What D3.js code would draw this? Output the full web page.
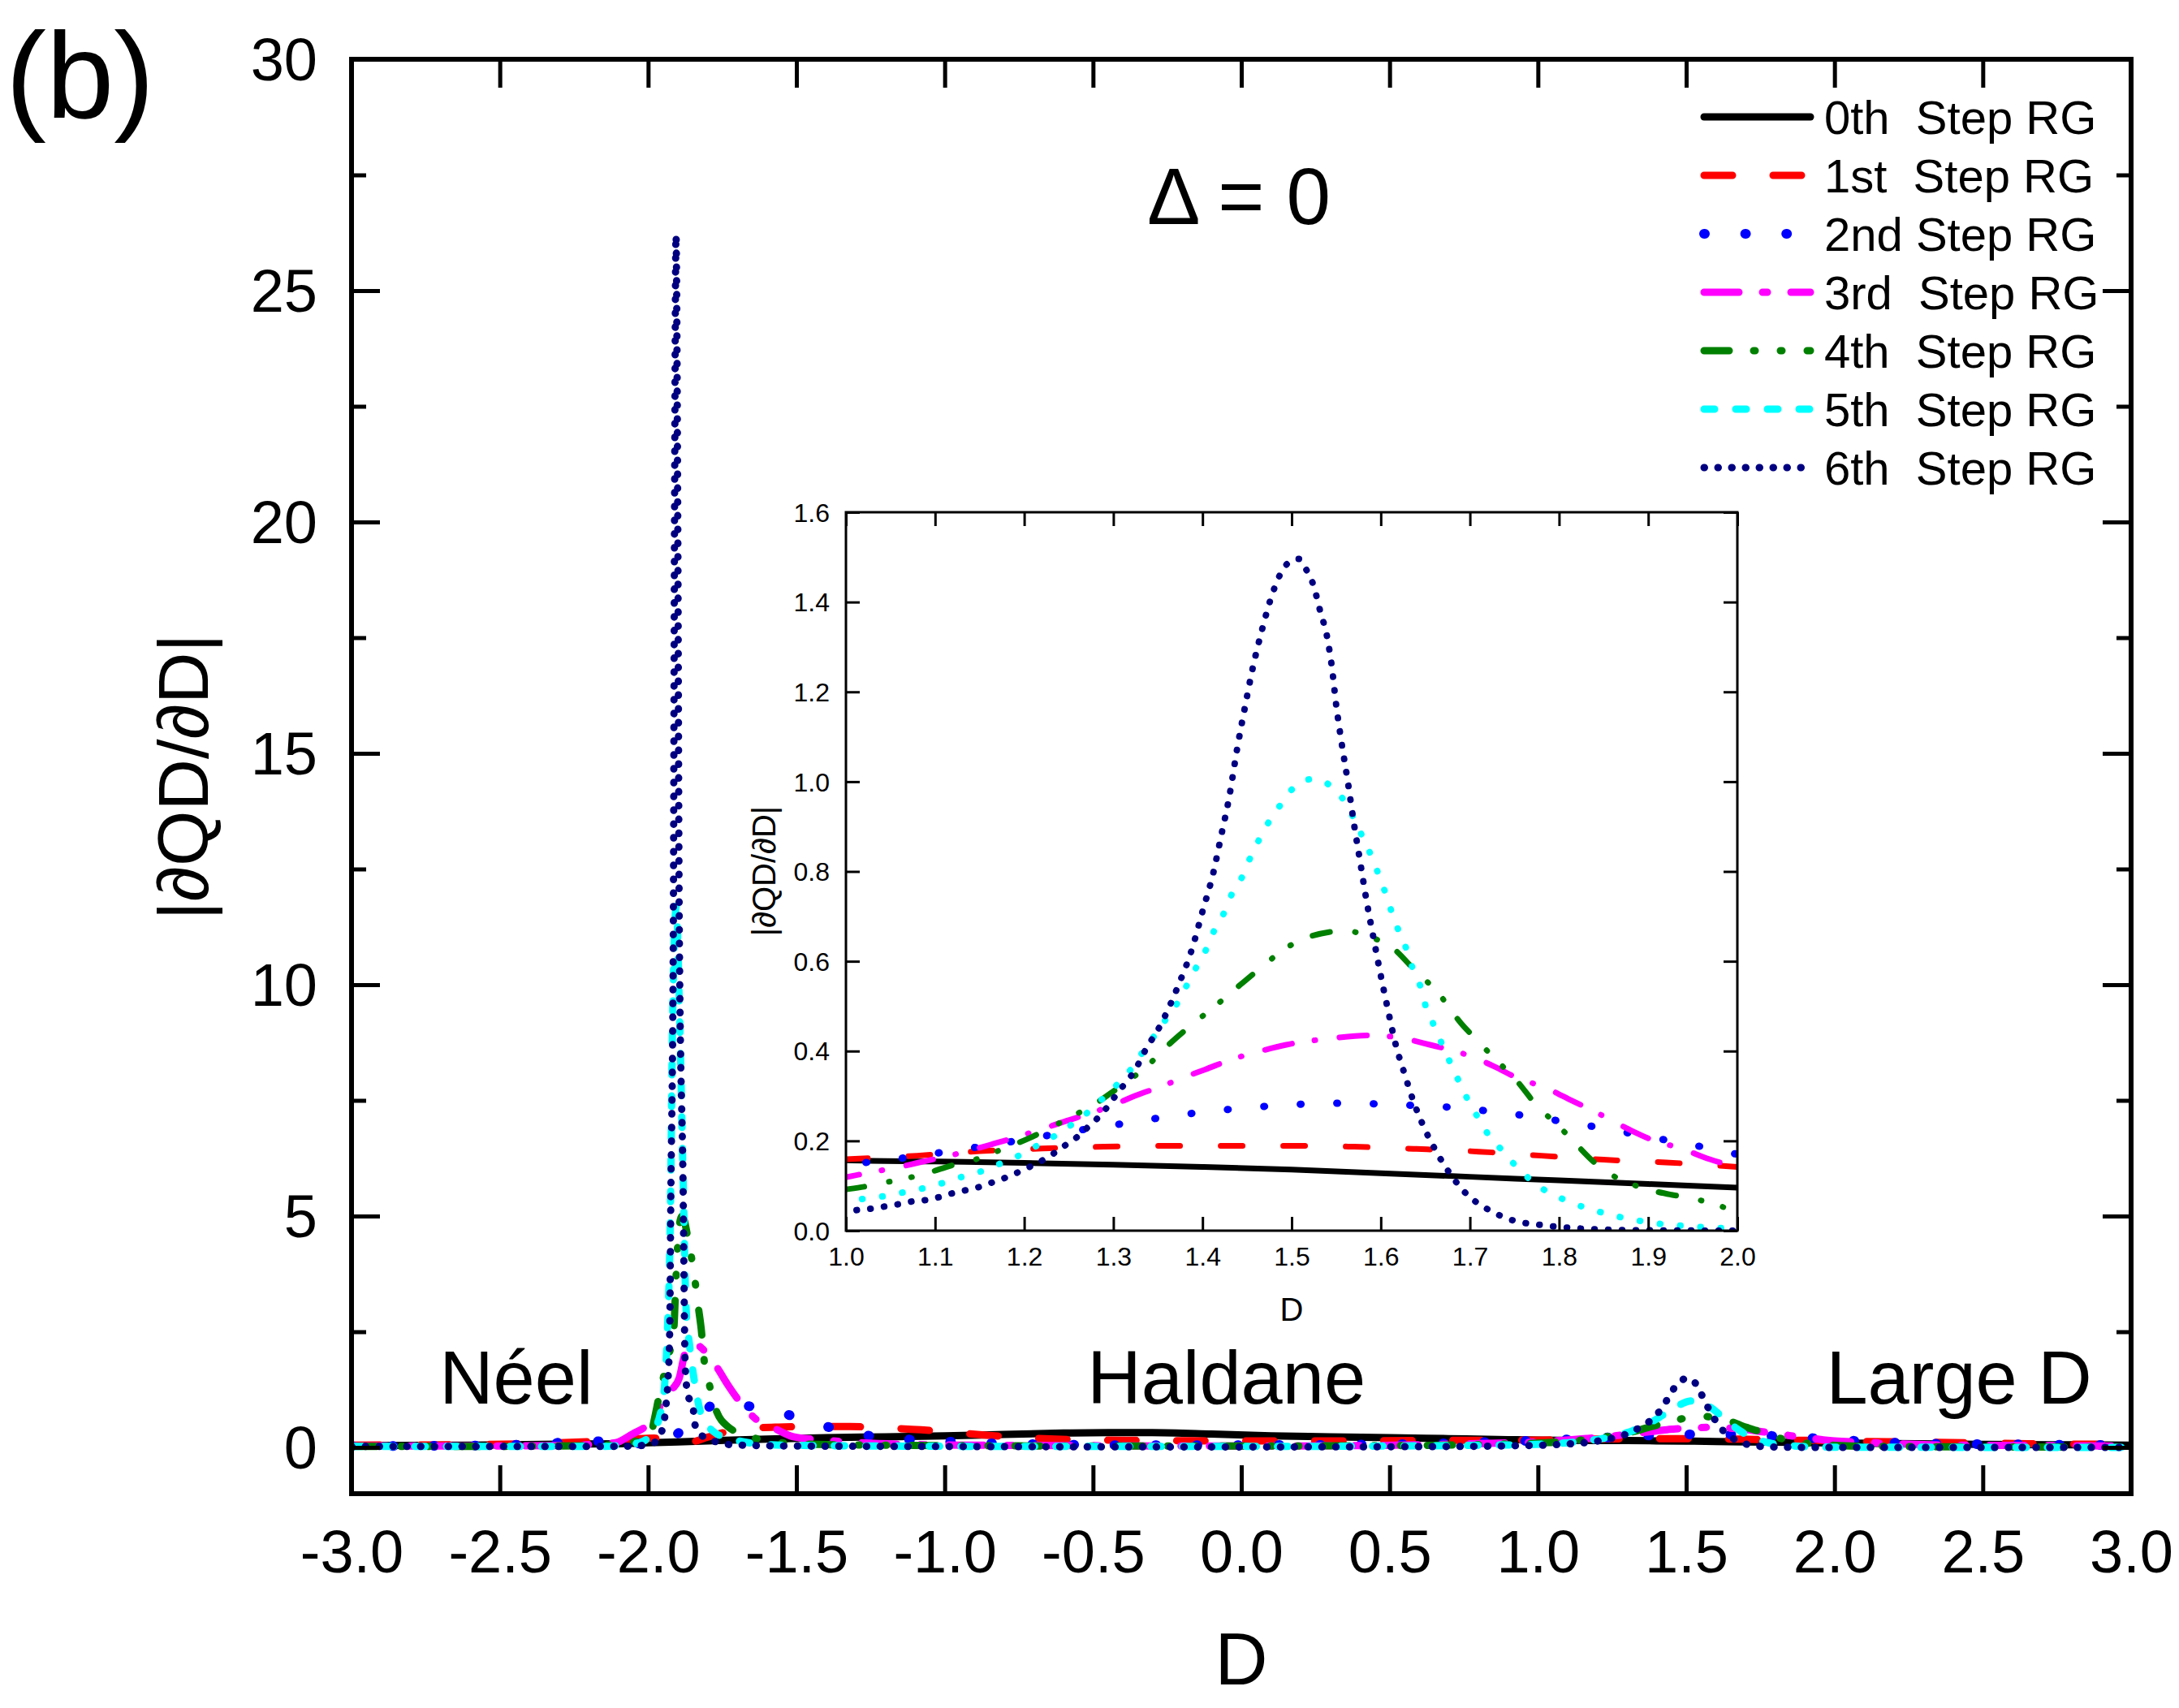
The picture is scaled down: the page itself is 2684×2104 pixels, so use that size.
<!DOCTYPE html>
<html><head><meta charset="utf-8">
<script src="https://cdn.jsdelivr.net/npm/d3@7"></script>
<style>
html,body{margin:0;padding:0;background:#fff;}
svg text{font-family:"Liberation Sans",Arial,sans-serif;white-space:pre;fill:#000;}
</style>
</head><body>
<svg id="c" width="2684" height="2104" xmlns="http://www.w3.org/2000/svg"></svg>
<script>
// ---------------- DATA ----------------
const seriesNames = ["0th  Step RG","1st  Step RG","2nd Step RG","3rd  Step RG","4th  Step RG","5th  Step RG","6th  Step RG"];

const step0 = [[-3.0,0.04],[-2.6,0.05],[-2.3,0.07],[-2.1,0.08],[-2.0,0.10],[-1.9,0.12],[-1.8,0.14],[-1.6,0.18],[-1.4,0.21],[-1.2,0.23],[-1.0,0.25],[-0.8,0.28],[-0.6,0.31],[-0.45,0.32],[-0.3,0.32],[-0.1,0.29],[0.1,0.25],[0.3,0.23],[0.5,0.21],[0.7,0.19],[0.9,0.168],[1.0,0.157],[1.1,0.154],[1.2,0.151],[1.3,0.147],[1.4,0.142],[1.5,0.136],[1.6,0.128],[1.7,0.120],[1.8,0.112],[1.9,0.104],[2.0,0.096],[2.2,0.082],[2.5,0.066],[2.8,0.056],[3.0,0.05]];

const step1 = [[-3.0,0.05],[-2.6,0.06],[-2.3,0.10],[-2.15,0.14],[-2.05,0.18],[-1.98,0.20],[-1.93,0.12],[-1.87,0.10],[-1.8,0.22],[-1.74,0.33],[-1.66,0.41],[-1.56,0.44],[-1.45,0.45],[-1.32,0.45],[-1.2,0.42],[-1.08,0.38],[-0.95,0.31],[-0.85,0.26],[-0.7,0.20],[-0.5,0.16],[-0.3,0.15],[0.0,0.14],[0.3,0.14],[0.6,0.15],[0.85,0.155],[1.0,0.159],[1.08,0.167],[1.15,0.177],[1.22,0.183],[1.29,0.187],[1.36,0.189],[1.43,0.189],[1.5,0.189],[1.57,0.187],[1.64,0.182],[1.71,0.176],[1.78,0.167],[1.85,0.158],[1.92,0.152],[2.0,0.142],[2.1,0.13],[2.25,0.12],[2.45,0.10],[2.65,0.08],[2.85,0.07],[3.0,0.065]];

const step2 = [[-3.0,0.03],[-2.6,0.04],[-2.35,0.08],[-2.2,0.14],[-2.1,0.10],[-2.0,0.08],[-1.95,0.15],[-1.9,0.30],[-1.85,0.60],[-1.8,0.85],[-1.76,0.98],[-1.72,0.95],[-1.65,0.88],[-1.58,0.80],[-1.5,0.65],[-1.45,0.55],[-1.38,0.42],[-1.31,0.31],[-1.24,0.24],[-1.175,0.20],[-1.1,0.16],[-1.04,0.14],[-0.9,0.10],[-0.7,0.07],[-0.4,0.05],[0.0,0.05],[0.4,0.06],[0.7,0.09],[0.9,0.13],[1.0,0.148],[1.038,0.155],[1.079,0.166],[1.12,0.178],[1.16,0.19],[1.2,0.203],[1.241,0.217],[1.282,0.23],[1.323,0.242],[1.364,0.255],[1.405,0.265],[1.446,0.273],[1.486,0.279],[1.527,0.283],[1.568,0.284],[1.61,0.281],[1.65,0.278],[1.69,0.273],[1.73,0.264],[1.77,0.254],[1.81,0.241],[1.85,0.228],[1.89,0.213],[1.93,0.198],[1.97,0.183],[2.0,0.17],[2.1,0.13],[2.2,0.10],[2.35,0.08],[2.5,0.07],[2.7,0.06],[3.0,0.05]];

const step3 = [[-3.0,0.03],[-2.6,0.03],[-2.3,0.04],[-2.2,0.06],[-2.11,0.10],[-2.05,0.30],[-2.02,0.40],[-1.976,0.62],[-1.955,0.98],[-1.92,1.25],[-1.895,1.50],[-1.875,2.05],[-1.85,2.25],[-1.83,2.20],[-1.812,2.10],[-1.77,1.75],[-1.733,1.37],[-1.69,0.98],[-1.64,0.63],[-1.57,0.40],[-1.51,0.23],[-1.43,0.17],[-1.3,0.11],[-1.15,0.07],[-0.95,0.05],[-0.6,0.04],[0.0,0.03],[0.4,0.04],[0.7,0.07],[0.9,0.10],[1.0,0.119],[1.03,0.131],[1.056,0.14],[1.08,0.151],[1.114,0.166],[1.138,0.178],[1.163,0.192],[1.199,0.213],[1.221,0.227],[1.245,0.243],[1.278,0.264],[1.3,0.28],[1.324,0.30],[1.356,0.323],[1.38,0.342],[1.403,0.359],[1.435,0.383],[1.456,0.395],[1.494,0.414],[1.543,0.428],[1.585,0.435],[1.613,0.432],[1.655,0.414],[1.704,0.386],[1.728,0.365],[1.752,0.341],[1.784,0.319],[1.815,0.289],[1.843,0.262],[1.878,0.226],[1.906,0.201],[1.937,0.183],[1.969,0.159],[2.0,0.141],[2.1,0.11],[2.2,0.08],[2.4,0.05],[2.7,0.04],[3.0,0.03]];

const step4 = [[-3.0,0.02],[-2.6,0.02],[-2.3,0.03],[-2.15,0.05],[-2.06,0.10],[-2.03,0.17],[-1.99,0.30],[-1.98,0.58],[-1.96,1.2],[-1.93,2.0],[-1.914,2.5],[-1.905,3.8],[-1.895,4.8],[-1.885,5.0],[-1.865,4.5],[-1.842,3.6],[-1.83,3.0],[-1.821,2.56],[-1.812,1.93],[-1.795,1.4],[-1.775,0.88],[-1.733,0.46],[-1.64,0.20],[-1.55,0.10],[-1.4,0.06],[-1.0,0.04],[-0.5,0.03],[0.0,0.03],[0.5,0.04],[0.8,0.06],[0.9,0.075],[1.0,0.092],[1.021,0.098],[1.043,0.107],[1.069,0.117],[1.094,0.13],[1.118,0.145],[1.143,0.157],[1.167,0.175],[1.19,0.193],[1.211,0.211],[1.232,0.232],[1.256,0.257],[1.28,0.283],[1.299,0.309],[1.316,0.333],[1.337,0.365],[1.362,0.414],[1.39,0.462],[1.411,0.495],[1.442,0.547],[1.47,0.593],[1.491,0.626],[1.522,0.656],[1.561,0.668],[1.585,0.656],[1.613,0.63],[1.641,0.574],[1.662,0.535],[1.69,0.462],[1.709,0.422],[1.728,0.383],[1.752,0.335],[1.777,0.274],[1.797,0.238],[1.818,0.195],[1.839,0.153],[1.86,0.123],[1.881,0.104],[1.905,0.089],[1.926,0.08],[1.95,0.072],[1.975,0.058],[2.0,0.044],[2.1,0.025],[2.3,0.015],[2.6,0.01],[3.0,0.01]];

const step5 = [[-3.0,0.02],[-2.5,0.02],[-2.15,0.02],[-2.08,0.06],[-2.03,0.10],[-1.99,0.29],[-1.96,0.7],[-1.945,1.3],[-1.935,2.5],[-1.925,5.0],[-1.918,9.0],[-1.905,11.7],[-1.895,9.6],[-1.883,6.1],[-1.872,3.0],[-1.86,2.2],[-1.848,1.6],[-1.835,1.1],[-1.823,0.75],[-1.79,0.4],[-1.768,0.29],[-1.72,0.18],[-1.66,0.10],[-1.55,0.05],[-1.2,0.03],[-0.5,0.02],[0.0,0.02],[0.5,0.03],[0.8,0.045],[0.95,0.06],[1.02,0.071],[1.043,0.077],[1.066,0.086],[1.088,0.095],[1.11,0.107],[1.132,0.121],[1.153,0.133],[1.174,0.15],[1.195,0.168],[1.215,0.19],[1.235,0.212],[1.253,0.236],[1.271,0.263],[1.288,0.294],[1.305,0.327],[1.32,0.36],[1.333,0.398],[1.346,0.434],[1.36,0.474],[1.373,0.511],[1.383,0.549],[1.394,0.59],[1.404,0.626],[1.413,0.668],[1.424,0.707],[1.433,0.75],[1.444,0.786],[1.453,0.828],[1.463,0.869],[1.474,0.909],[1.487,0.947],[1.501,0.984],[1.524,1.006],[1.542,0.993],[1.558,0.96],[1.569,0.921],[1.58,0.875],[1.589,0.836],[1.597,0.796],[1.605,0.753],[1.612,0.711],[1.62,0.668],[1.629,0.626],[1.637,0.577],[1.646,0.535],[1.651,0.495],[1.66,0.456],[1.669,0.414],[1.678,0.374],[1.688,0.331],[1.698,0.29],[1.709,0.252],[1.721,0.213],[1.737,0.177],[1.752,0.143],[1.77,0.11],[1.791,0.082],[1.81,0.066],[1.831,0.05],[1.853,0.038],[1.876,0.027],[1.9,0.019],[1.923,0.013],[1.946,0.01],[1.968,0.007],[1.992,0.005],[2.2,0.003],[2.6,0.002],[3.0,0.002]];

const step6 = [[-3.0,0.02],[-2.5,0.02],[-2.2,0.02],[-2.05,0.03],[-1.99,0.08],[-1.98,0.10],[-1.95,0.43],[-1.94,0.9],[-1.933,1.45],[-1.927,2.6],[-1.924,5.0],[-1.915,11.3],[-1.911,20.0],[-1.906,26.2],[-1.9,20.0],[-1.895,11.3],[-1.881,5.0],[-1.878,3.0],[-1.876,2.0],[-1.872,1.45],[-1.867,1.16],[-1.848,0.87],[-1.845,0.58],[-1.83,0.32],[-1.783,0.15],[-1.738,0.07],[-1.69,0.05],[-1.5,0.03],[-1.0,0.02],[0.0,0.01],[0.5,0.015],[0.8,0.025],[0.95,0.04],[1.013,0.046],[1.028,0.049],[1.044,0.054],[1.059,0.059],[1.074,0.065],[1.089,0.068],[1.105,0.075],[1.119,0.083],[1.134,0.09],[1.149,0.097],[1.165,0.108],[1.179,0.118],[1.193,0.13],[1.206,0.142],[1.22,0.156],[1.233,0.172],[1.246,0.19],[1.259,0.208],[1.27,0.228],[1.281,0.248],[1.291,0.27],[1.3,0.294],[1.31,0.32],[1.32,0.345],[1.328,0.371],[1.334,0.395],[1.354,0.462],[1.373,0.547],[1.388,0.626],[1.4,0.711],[1.412,0.796],[1.421,0.88],[1.43,0.966],[1.439,1.075],[1.448,1.17],[1.456,1.25],[1.467,1.34],[1.477,1.41],[1.488,1.465],[1.498,1.49],[1.508,1.496],[1.517,1.47],[1.524,1.44],[1.532,1.38],[1.54,1.32],[1.545,1.257],[1.55,1.17],[1.556,1.087],[1.563,1.0],[1.57,0.905],[1.577,0.82],[1.584,0.735],[1.592,0.65],[1.599,0.578],[1.608,0.492],[1.616,0.42],[1.627,0.347],[1.637,0.286],[1.648,0.232],[1.662,0.177],[1.678,0.126],[1.697,0.08],[1.718,0.05],[1.745,0.025],[1.787,0.011],[1.822,0.005],[1.892,0.001],[2.0,0.0],[2.3,0.0],[2.7,0.0],[3.0,0.0]];

const xTicks = [-3.0,-2.5,-2.0,-1.5,-1.0,-0.5,0.0,0.5,1.0,1.5,2.0,2.5,3.0];
const xTickLabels = ["-3.0","-2.5","-2.0","-1.5","-1.0","-0.5","0.0","0.5","1.0","1.5","2.0","2.5","3.0"];
const yTicks = [0,5,10,15,20,25,30];
const yTickLabels = ["0","5","10","15","20","25","30"];
const yMinorTicks = [2.5,7.5,12.5,17.5,22.5,27.5];
const insetXTicks = [1.0,1.1,1.2,1.3,1.4,1.5,1.6,1.7,1.8,1.9,2.0];
const insetXTickLabels = ["1.0","1.1","1.2","1.3","1.4","1.5","1.6","1.7","1.8","1.9","2.0"];
const insetYTicks = [0.0,0.2,0.4,0.6,0.8,1.0,1.2,1.4,1.6];
const insetYTickLabels = ["0.0","0.2","0.4","0.6","0.8","1.0","1.2","1.4","1.6"];
const phaseLabels = ["Néel","Haldane","Large D"];
const phasePositions = [-2.445,-0.05,2.42];

// ---------------- STYLES ----------------
const styles = [
  {c:"#000000", w:9,  dash:null,                    wi:7, dashI:null},
  {c:"#ff0000", w:9,  dash:"35,50",                 wi:7, dashI:"27,50"},
  {c:"#0000ff", w:12, dash:"1,49.6",                wi:9, dashI:"1,44"},
  {c:"#ff00ff", w:9,  dash:"43,29,6,29",            wi:7, dashI:"34,28,1,30"},
  {c:"#008000", w:9,  dash:"31,30,2,31,2,31",       wi:7, dashI:"22,31,1,27,1,29"},
  {c:"#00ffff", w:9,  dash:"13,26",                 wi:8, dashI:"0.5,24.5"},
  {c:"#000080", w:9,  dash:"0.5,16.5",              wi:8, dashI:"0.5,16.5"}
];
const allSeries = [step0,step1,step2,step3,step4,step5,step6];
const FONT = '"Liberation Sans",Arial,sans-serif';

// ---------------- MAIN ----------------
const svg = d3.select("#c");
const M = {l:433, r:2625, t:73, b:1840};
const x = d3.scaleLinear().domain([-3,3]).range([M.l,M.r]);
const y = d3.scaleLinear().domain([-1,30]).range([M.b,M.t]);

const defs = svg.append("defs");
defs.append("clipPath").attr("id","mainClip").append("rect")
  .attr("x",M.l).attr("y",M.t).attr("width",M.r-M.l).attr("height",M.b-M.t);

const line = d3.line().x(d=>x(d[0])).y(d=>y(d[1])).curve(d3.curveMonotoneX);
const gMain = svg.append("g").attr("clip-path","url(#mainClip)");
allSeries.forEach((s,i)=>{
  const st = styles[i];
  gMain.append("path").datum(s).attr("d",line)
    .attr("fill","none").attr("stroke",st.c).attr("stroke-width",st.w)
    .attr("stroke-linecap","round").attr("stroke-linejoin","round")
    .attr("stroke-dasharray",st.dash);
});

function styleAxis(g, tickW, fontSize){
  g.select(".domain").remove();
  g.selectAll(".tick line").attr("stroke","#000").attr("stroke-width",tickW);
  g.selectAll(".tick text").attr("font-size",fontSize).attr("font-family",FONT).attr("fill","#000");
}
// bottom
const gxb = svg.append("g").attr("transform",`translate(0,${M.b})`)
  .call(d3.axisBottom(x).tickValues(xTicks).tickSize(-35).tickPadding(44).tickFormat((d,i)=>xTickLabels[i]));
styleAxis(gxb,5,74);
// top
const gxt = svg.append("g").attr("transform",`translate(0,${M.t})`)
  .call(d3.axisTop(x).tickValues(xTicks).tickSize(-35).tickFormat(""));
styleAxis(gxt,5,74);
// left
const gyl = svg.append("g").attr("transform",`translate(${M.l},0)`)
  .call(d3.axisLeft(y).tickValues(yTicks).tickSize(-35).tickPadding(42).tickFormat((d,i)=>yTickLabels[i]));
styleAxis(gyl,5,74);
gyl.selectAll(".tick text").attr("dy","0.35em");
const gylm = svg.append("g").attr("transform",`translate(${M.l},0)`)
  .call(d3.axisLeft(y).tickValues(yMinorTicks).tickSize(-18).tickFormat(""));
styleAxis(gylm,5,74);
// right
const gyr = svg.append("g").attr("transform",`translate(${M.r},0)`)
  .call(d3.axisRight(y).tickValues(yTicks).tickSize(-35).tickFormat(""));
styleAxis(gyr,5,74);
const gyrm = svg.append("g").attr("transform",`translate(${M.r},0)`)
  .call(d3.axisRight(y).tickValues(yMinorTicks).tickSize(-18).tickFormat(""));
styleAxis(gyrm,5,74);

svg.append("rect").attr("x",M.l).attr("y",M.t).attr("width",M.r-M.l).attr("height",M.b-M.t)
  .attr("fill","none").attr("stroke","#000").attr("stroke-width",6);

// titles
svg.append("text").attr("x",(M.l+M.r)/2).attr("y",2075).attr("text-anchor","middle")
  .attr("font-size",90).text("D");
svg.append("text").attr("transform",`translate(256,957) rotate(-90)`).attr("text-anchor","middle")
  .attr("font-size",88).text("|∂QD/∂D|");
svg.append("text").attr("x",7).attr("y",145).attr("font-size",150).text("(b)");
svg.append("text").attr("x",1526).attr("y",276).attr("text-anchor","middle")
  .attr("font-size",98).text("Δ = 0");
phaseLabels.forEach((t,i)=>{
  svg.append("text").attr("x",x(phasePositions[i])).attr("y",1729).attr("text-anchor","middle")
    .attr("font-size",92).text(t);
});

// legend
seriesNames.forEach((n,i)=>{
  const st = styles[i];
  const yy = 144 + 72*i;
  svg.append("line").attr("x1",2099).attr("x2",2230).attr("y1",yy).attr("y2",yy)
    .attr("stroke",st.c).attr("stroke-width",st.w).attr("stroke-linecap","round")
    .attr("stroke-dasharray",st.dash);
  svg.append("text").attr("x",2247).attr("y",yy+21).attr("font-size",58).text(n);
});

// ---------------- INSET ----------------
const I = {l:1042, r:2140, t:631, b:1516};
const xi = d3.scaleLinear().domain([1,2]).range([I.l,I.r]);
const yi = d3.scaleLinear().domain([0,1.6]).range([I.b,I.t]);
defs.append("clipPath").attr("id","insetClip").append("rect")
  .attr("x",I.l).attr("y",I.t).attr("width",I.r-I.l).attr("height",I.b-I.t);
svg.append("rect").attr("x",I.l).attr("y",I.t).attr("width",I.r-I.l).attr("height",I.b-I.t).attr("fill","#fff");
const lineI = d3.line().x(d=>xi(d[0])).y(d=>yi(d[1])).curve(d3.curveMonotoneX);
const gIn = svg.append("g").attr("clip-path","url(#insetClip)");
allSeries.forEach((s,i)=>{
  const st = styles[i];
  const sub = s.filter(d=>d[0]>=0.9 && d[0]<=2.1);
  gIn.append("path").datum(sub).attr("d",lineI)
    .attr("fill","none").attr("stroke",st.c).attr("stroke-width",st.wi)
    .attr("stroke-linecap","round").attr("stroke-linejoin","round")
    .attr("stroke-dasharray",st.dashI);
});
const gib = svg.append("g").attr("transform",`translate(0,${I.b})`)
  .call(d3.axisBottom(xi).tickValues(insetXTicks).tickSize(-17).tickPadding(20).tickFormat((d,i)=>insetXTickLabels[i]));
styleAxis(gib,3,32);
const git = svg.append("g").attr("transform",`translate(0,${I.t})`)
  .call(d3.axisTop(xi).tickValues(insetXTicks).tickSize(-17).tickFormat(""));
styleAxis(git,3,32);
const gil = svg.append("g").attr("transform",`translate(${I.l},0)`)
  .call(d3.axisLeft(yi).tickValues(insetYTicks).tickSize(-17).tickPadding(20).tickFormat((d,i)=>insetYTickLabels[i]));
styleAxis(gil,3,32);
gil.selectAll(".tick text").attr("dy","0.35em");
const gir = svg.append("g").attr("transform",`translate(${I.r},0)`)
  .call(d3.axisRight(yi).tickValues(insetYTicks).tickSize(-17).tickFormat(""));
styleAxis(gir,3,32);
svg.append("rect").attr("x",I.l).attr("y",I.t).attr("width",I.r-I.l).attr("height",I.b-I.t)
  .attr("fill","none").attr("stroke","#000").attr("stroke-width",3);
svg.append("text").attr("x",(I.l+I.r)/2).attr("y",1627).attr("text-anchor","middle")
  .attr("font-size",40).text("D");
svg.append("text").attr("transform",`translate(955,1073) rotate(-90)`).attr("text-anchor","middle")
  .attr("font-size",40).text("|∂QD/∂D|");
</script>
</body></html>
